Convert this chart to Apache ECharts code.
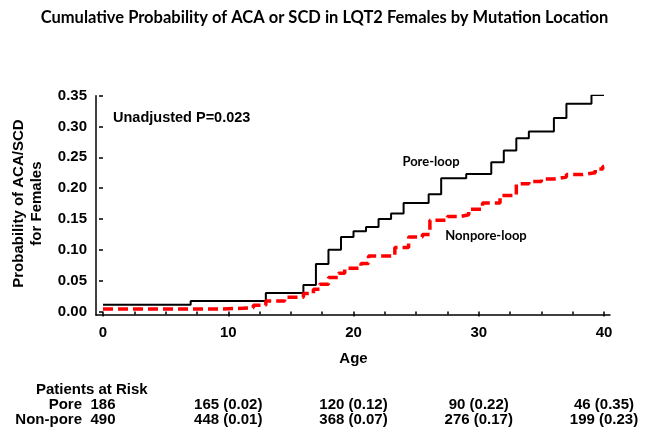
<!DOCTYPE html>
<html><head><meta charset="utf-8">
<script src="https://cdn.jsdelivr.net/npm/echarts@6/dist/echarts.min.js"></script>
<style>html,body{margin:0;padding:0;background:#fff}#c{width:649px;height:433px}</style>
</head><body><div id="c"></div>
<script>
// ---- data ----
const poreAge  = [0, 7, 13, 16, 17, 18, 19, 20, 21, 22, 23, 24, 26, 27, 29, 31, 32, 33, 34, 36, 37, 39, 40];
const poreProb = [0.011, 0.017, 0.030, 0.043, 0.077, 0.100, 0.121, 0.130, 0.137, 0.150, 0.159, 0.176, 0.190, 0.216, 0.223, 0.242, 0.261, 0.281, 0.292, 0.314, 0.337, 0.351, 0.351];
const nonAge  = [0, 9.5, 12, 13, 14.5, 16, 16.8, 17.3, 18, 18.8, 19.3, 20.6, 21.2, 23.3, 24.4, 25.5, 26.1, 27.5, 28.5, 29.2, 30.3, 31.7, 33, 34, 35, 36, 37, 38.2, 39.3, 39.9, 40];
const nonProb = [0.004, 0.006, 0.010, 0.017, 0.023, 0.029, 0.036, 0.044, 0.055, 0.062, 0.070, 0.078, 0.090, 0.104, 0.121, 0.125, 0.148, 0.154, 0.157, 0.166, 0.176, 0.188, 0.207, 0.211, 0.215, 0.218, 0.222, 0.225, 0.231, 0.235, 0.235];
const riskAges = [0, 10, 20, 30, 40];
const riskPore = ['186', '165 (0.02)', '120 (0.12)', '90 (0.22)', '46 (0.35)'];
const riskNon  = ['490', '448 (0.01)', '368 (0.07)', '276 (0.17)', '199 (0.23)'];
const riskGroups = ['Pore', 'Non-pore'];
const riskTitle = 'Patients at Risk';

const AF = '"Liberation Sans", Arial, sans-serif';
const CF = 'Lato, "Open Sans", sans-serif';
const chart = echarts.init(document.getElementById('c'), null, {renderer: 'canvas'});

const lbl = {fontFamily: AF, fontWeight: 'bold', fontSize: 15, color: '#000'};
const option = {
  animation: false,
  backgroundColor: '#fff',
  title: {
    text: 'Cumulative Probability of ACA or SCD in LQT2 Females by Mutation Location',
    left: 'center', top: 4,
    textStyle: {fontFamily: CF, fontWeight: 'bold', fontSize: 16.5, color: '#000'}
  },
  grid: [
    {left: 103, right: 45, top: 95.7, bottom: 121.5},
    {left: 96, right: 39, top: 95.7, bottom: 118}
  ],
  xAxis: [
    {gridIndex: 0, type: 'value', min: 0, max: 40, interval: 10, offset: 3.5,
     axisLine: {show: false},
     axisTick: {show: true, length: 5, lineStyle: {color: '#000', width: 1.5}},
     minorTick: {show: true, splitNumber: 4, length: 3, lineStyle: {color: '#000', width: 1.5}},
     splitLine: {show: false},
     axisLabel: Object.assign({margin: 10}, lbl),
     name: 'Age', nameLocation: 'middle', nameGap: 36,
     nameTextStyle: lbl},
    {gridIndex: 1, type: 'value', min: 0, max: 1,
     axisLine: {show: true, lineStyle: {color: '#000', width: 1.5}},
     axisTick: {show: false}, axisLabel: {show: false}, splitLine: {show: false}}
  ],
  yAxis: [
    {gridIndex: 0, type: 'value', min: 0, max: 0.35, interval: 0.05, offset: 7,
     axisLine: {show: false},
     axisTick: {show: true, length: 4, lineStyle: {color: '#000', width: 1.5}},
     splitLine: {show: false},
     axisLabel: Object.assign({margin: 9, formatter: v => v.toFixed(2)}, lbl),
     name: 'Probability of ACA/SCD\nfor Females', nameLocation: 'middle', nameGap: 50,
     nameTextStyle: Object.assign({lineHeight: 18, align: 'center'}, lbl)},
    {gridIndex: 1, type: 'value', min: 0, max: 1,
     axisLine: {show: true, lineStyle: {color: '#000', width: 1.5}},
     axisTick: {show: false}, axisLabel: {show: false}, splitLine: {show: false}}
  ],
  series: [
    {name: 'Pore-loop', type: 'line', step: 'end', symbol: 'none', xAxisIndex: 0, yAxisIndex: 0,
     lineStyle: {color: '#000', width: 2},
     data: poreAge.map((a, i) => [a, poreProb[i]])},
    {name: 'Nonpore-loop', type: 'line', step: 'end', symbol: 'none', xAxisIndex: 0, yAxisIndex: 0,
     lineStyle: {color: '#ff0000', width: 3.5, type: [10, 5]},
     data: nonAge.map((a, i) => [a, nonProb[i]])}
  ]
};
chart.setOption(option);

const px = v => chart.convertToPixel({xAxisIndex: 0}, v);
const g = [];
const txt = (x, y, s, align, font, size) => ({
  type: 'text', x: x, y: y,
  style: {text: s, align: align, verticalAlign: 'middle', fill: '#000',
          font: 'bold ' + size + 'px ' + font}
});
g.push(txt(113, 118, 'Unadjusted P=0.023', 'left', AF, 14.5));
g.push(txt(431, 162, 'Pore-loop', 'center', CF, 13));
g.push(txt(486, 236, 'Nonpore-loop', 'center', CF, 13));
g.push(txt(36, 390, riskTitle, 'left', AF, 15));
g.push(txt(82, 405, riskGroups[0], 'right', AF, 15));
g.push(txt(82, 420, riskGroups[1], 'right', AF, 15));
riskAges.forEach((a, i) => {
  g.push(txt(px(a), 405, riskPore[i], 'center', AF, 15));
  g.push(txt(px(a), 420, riskNon[i], 'center', AF, 15));
});
chart.setOption({graphic: g});
</script>
</body></html>
